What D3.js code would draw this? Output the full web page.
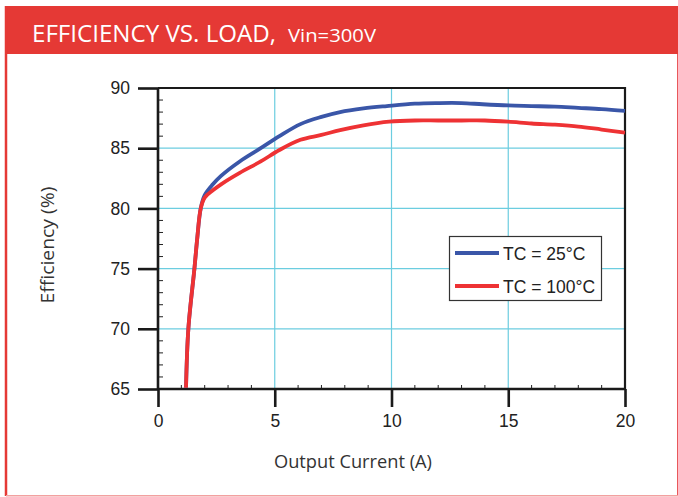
<!DOCTYPE html>
<html>
<head>
<meta charset="utf-8">
<script src="https://cdn.jsdelivr.net/npm/d3@7/dist/d3.min.js"></script>
<style>
  html, body { margin: 0; padding: 0; background: #ffffff; }
  svg { display: block; }
</style>
</head>
<body>
<div id="chart"></div>
<script>
// ---- data ----
const titleMain = "EFFICIENCY VS. LOAD,";
const titleSub = "Vin=300V";
const xLabel = "Output Current (A)";
const yLabel = "Efficiency (%)";
const xTicks = [0, 5, 10, 15, 20];
const yTicks = [65, 70, 75, 80, 85, 90];
const seriesNames = ["TC = 25°C", "TC = 100°C"];

const current25 = [1.2, 1.3, 1.56, 1.68, 1.83, 2.0, 2.35, 2.7, 3.5, 4.4, 5.2, 6.1, 7, 7.8, 8.8, 9.8, 11, 12, 13, 13.9, 15, 16, 17, 18, 19, 20];
const eff25 =     [65.1, 70, 75, 77.5, 80, 81.1, 82.0, 82.7, 83.9, 85.0, 86.0, 87.0, 87.6, 88.0, 88.3, 88.5, 88.7, 88.75, 88.75, 88.65, 88.55, 88.5, 88.45, 88.35, 88.25, 88.1];
const current100 = [1.2, 1.3, 1.56, 1.68, 1.83, 2.0, 2.35, 2.7, 3.5, 4.4, 5.2, 6.1, 7, 7.8, 8.8, 9.9, 11, 12, 13, 14, 15, 16, 17, 18, 19, 20];
const eff100 =     [65.1, 70, 75, 77.5, 80, 80.9, 81.5, 82.0, 82.95, 83.9, 84.85, 85.7, 86.1, 86.5, 86.9, 87.2, 87.3, 87.3, 87.3, 87.3, 87.2, 87.05, 86.95, 86.8, 86.55, 86.3];

const W = 678, H = 497;
const red = "#e53935";
const blue = "#3a56a8";
const lineRed = "#ee3234";
const gridCol = "#6ccde0";

const svg = d3.select("#chart").append("svg").attr("width", W).attr("height", H);

// frame
svg.append("rect").attr("x", 6).attr("y", 6).attr("width", W - 6).attr("height", 48).attr("fill", red);
svg.append("line").attr("x1", 6).attr("x2", 6).attr("y1", 6).attr("y2", 496).attr("stroke", red).attr("stroke-width", 2.5);
svg.append("line").attr("x1", 677.5).attr("x2", 677.5).attr("y1", 54).attr("y2", 496).attr("stroke", "#e8585a").attr("stroke-width", 1);
svg.append("line").attr("x1", 6).attr("x2", 678).attr("y1", 495.8).attr("y2", 495.8).attr("stroke", "#f2a0a0").attr("stroke-width", 1.4);

// title
const tt = svg.append("text").attr("x", 32).attr("y", 42).attr("fill", "#fff")
  .style("font-family", "'Open Sans', sans-serif");
tt.append("tspan").attr("font-size", 23).attr("textLength", 244).attr("lengthAdjust", "spacingAndGlyphs").text(titleMain);
tt.append("tspan").attr("x", 288).attr("font-size", 18).attr("textLength", 88).attr("lengthAdjust", "spacingAndGlyphs").text(titleSub);

// scales
const x = d3.scaleLinear().domain([0, 20]).range([158, 625]);
const y = d3.scaleLinear().domain([65, 90]).range([389, 88]);

// grid
const g = svg.append("g");
g.selectAll(".gx").data(xTicks.slice(1, -1)).join("line")
  .attr("x1", d => x(d)).attr("x2", d => x(d)).attr("y1", y(90)).attr("y2", y(65))
  .attr("stroke", gridCol).attr("stroke-width", 1.2);
g.selectAll(".gy").data(yTicks.slice(1, -1)).join("line")
  .attr("x1", x(0)).attr("x2", x(20)).attr("y1", d => y(d)).attr("y2", d => y(d))
  .attr("stroke", gridCol).attr("stroke-width", 1.2);

// minor ticks
const minorX = d3.range(1, 20).filter(d => d % 5 !== 0);
const minorY = d3.range(66, 90).filter(d => d % 5 !== 0);
g.selectAll(".mx").data(minorX).join("line")
  .attr("x1", d => x(d)).attr("x2", d => x(d)).attr("y1", y(65)).attr("y2", y(65) - 4)
  .attr("stroke", "#222").attr("stroke-width", 1);
g.selectAll(".my").data(minorY).join("line")
  .attr("x1", x(0)).attr("x2", x(0) + 5).attr("y1", d => y(d)).attr("y2", d => y(d))
  .attr("stroke", "#222").attr("stroke-width", 1);

// plot frame (top and right)
g.append("path").attr("d", `M${x(0)},${y(90)}H${x(20)}V${y(65)}`).attr("fill", "none")
  .attr("stroke", "#1a1a1a").attr("stroke-width", 2.2);

// axes
const xAxis = d3.axisBottom(x).tickValues(xTicks).tickSize(18).tickPadding(8).tickFormat(d3.format("d"));
const yAxis = d3.axisLeft(y).tickValues(yTicks).tickSize(20).tickPadding(7).tickFormat(d3.format("d"));
const gx = svg.append("g").attr("transform", `translate(0,${y(65)})`).call(xAxis);
const gy = svg.append("g").attr("transform", `translate(${x(0)},0)`).call(yAxis);
[gx, gy].forEach(a => {
  a.select(".domain").attr("stroke", "#1a1a1a").attr("stroke-width", 2.6);
  a.selectAll(".tick line").attr("stroke", "#1a1a1a").attr("stroke-width", 2.6);
  a.selectAll(".tick text").attr("fill", "#222").style("font-family", "'Liberation Sans', Arial, sans-serif").style("font-size", "17.5px");
});
gx.select(".domain").attr("d", `M${x(0)},0H${x(20)}`);
gy.select(".domain").attr("d", `M0,${y(65)}V${y(90)}`);
gy.selectAll(".tick text").attr("x", -28);

// axis labels
svg.append("text").attr("x", 353).attr("y", 468).attr("text-anchor", "middle")
  .attr("fill", "#333").style("font-family", "'Open Sans', sans-serif").style("font-size", "17.5px")
  .attr("textLength", 158).attr("lengthAdjust", "spacingAndGlyphs").text(xLabel);
svg.append("text").attr("transform", "translate(54,245) rotate(-90)").attr("text-anchor", "middle")
  .attr("fill", "#333").style("font-family", "'Open Sans', sans-serif").style("font-size", "17.5px")
  .attr("textLength", 117).attr("lengthAdjust", "spacingAndGlyphs").text(yLabel);

// lines
const line = d3.line().x(d => x(d[0])).y(d => y(d[1])).curve(d3.curveCatmullRom.alpha(0.5));
const data100 = current100.map((c, i) => [c, eff100[i]]);
const data25 = current25.map((c, i) => [c, eff25[i]]);
svg.append("path").datum(data25).attr("d", line).attr("fill", "none").attr("stroke", blue).attr("stroke-width", 3.8).attr("stroke-linejoin", "round");
svg.append("path").datum(data100).attr("d", line).attr("fill", "none").attr("stroke", lineRed).attr("stroke-width", 3.8).attr("stroke-linejoin", "round");

// legend
const lg = svg.append("g");
lg.append("rect").attr("x", 449.5).attr("y", 236.5).attr("width", 152).attr("height", 64)
  .attr("fill", "#fff").attr("stroke", "#333").attr("stroke-width", 1.2);
const colors = [blue, lineRed];
seriesNames.forEach((n, i) => {
  const yy = 253 + i * 33;
  lg.append("line").attr("x1", 455).attr("x2", 499).attr("y1", yy).attr("y2", yy).attr("stroke", colors[i]).attr("stroke-width", 4);
  lg.append("text").attr("x", 503).attr("y", yy + 6.5).attr("fill", "#222")
    .style("font-family", "'Liberation Sans', Arial, sans-serif").style("font-size", "17.5px").text(n);
});
</script>
</body>
</html>
